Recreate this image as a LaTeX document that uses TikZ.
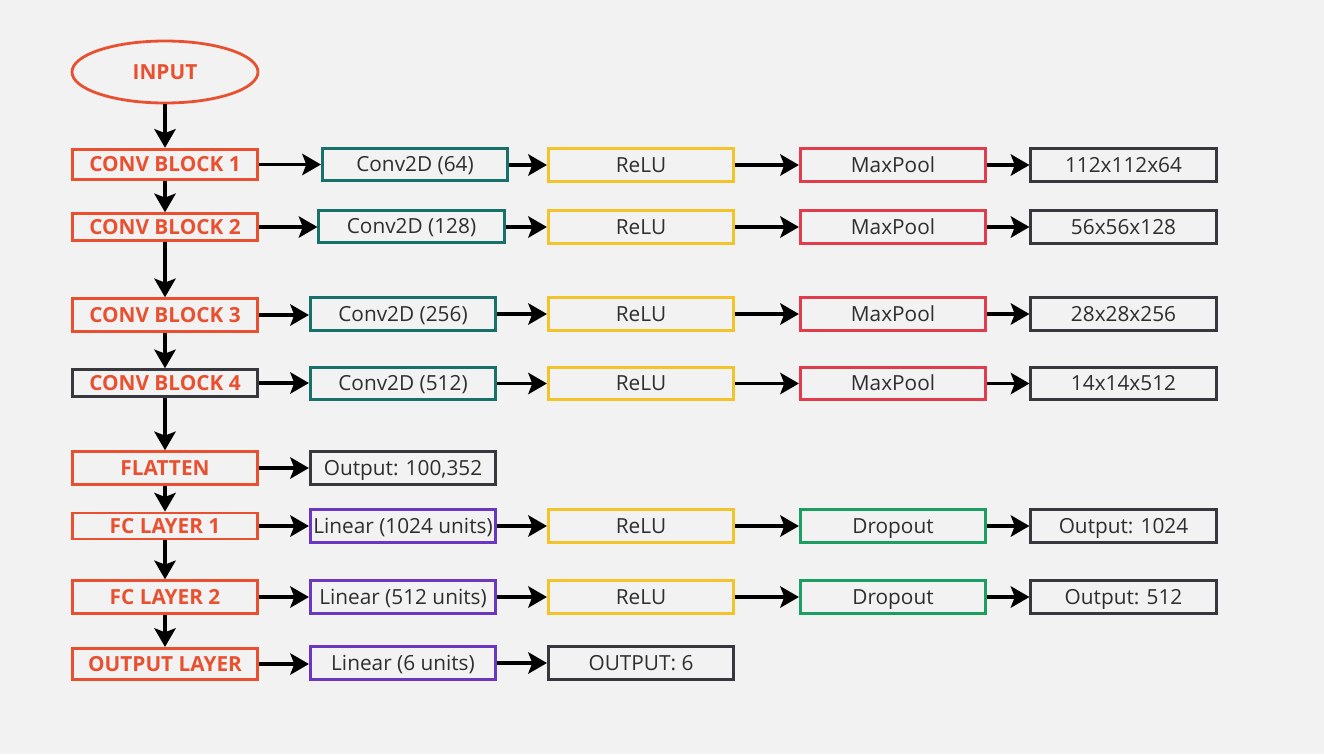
\documentclass[tikz,border=0pt]{standalone}
\usepackage{fontspec}
\setmainfont{Open Sans}
\usetikzlibrary{arrows.meta,shapes.geometric}
\definecolor{bg}{HTML}{F2F2F2}
\definecolor{orng}{HTML}{E9502F}
\definecolor{teal}{HTML}{17706A}
\definecolor{yel}{HTML}{F3C42A}
\definecolor{mred}{HTML}{E03C4B}
\definecolor{dgray}{HTML}{37383E}
\definecolor{purp}{HTML}{6B36C0}
\definecolor{grn}{HTML}{1A9E62}
\definecolor{txt}{HTML}{2E2E2E}
\tikzset{
  blk/.style={draw=orng, line width=2.1pt, text=orng, font=\bfseries\fontsize{15.6}{18}\selectfont, minimum width=139pt, inner sep=0pt, text height=11.1pt, text depth=0pt},
  box/.style={draw, line width=2.1pt, text=txt, font=\fontsize{15.6}{18}\selectfont, minimum width=139pt, minimum height=24.5pt, inner sep=0pt, text height=11.1pt, text depth=0pt},
  arr/.style={-{Stealth[length=14pt,width=16pt,inset=3pt]}, line width=2.6pt, black},
}
\begin{document}
\begin{tikzpicture}[x=0.75pt,y=-0.75pt]
\useasboundingbox[fill=bg] (0,0) rectangle (1324,754);
% left column
\node[ellipse, draw=orng, line width=2.1pt, text=orng, font=\bfseries\fontsize{15.6}{18}\selectfont, minimum width=139.5pt, minimum height=46.5pt, inner sep=0pt, text height=11.1pt, text depth=0pt] (in) at (165,72) {INPUT};
\node[blk, minimum height=23pt] (c1) at (165,164.5) {CONV BLOCK 1};
\node[blk, minimum height=20pt] (c2) at (165,227) {CONV BLOCK 2};
\node[blk, minimum height=24.5pt] (c3) at (165,315) {CONV BLOCK 3};
\node[blk, draw=dgray, minimum height=20pt] (c4) at (165,383) {CONV BLOCK 4};
\node[blk, minimum height=24.5pt] (fl) at (165,468) {FLATTEN};
\node[blk, minimum height=19.5pt] (f1) at (165,526) {FC LAYER 1};
\node[blk, minimum height=24.5pt] (f2) at (165,597) {FC LAYER 2};
\node[blk, minimum height=23.5pt] (ol) at (165,664) {OUTPUT LAYER};
% second column
\node[box, draw=teal] (a1) at (415,164.5) {Conv2D (64)};
\node[box, draw=teal] (a2) at (411.5,226.5) {Conv2D (128)};
\node[box, draw=teal] (a3) at (403,314) {Conv2D (256)};
\node[box, draw=teal] (a4) at (403,383.5) {Conv2D (512)};
\node[box, draw=dgray] (a5) at (403,468) {Output: 100,352};
\node[box, draw=purp] (a6) at (403,526) {Linear (1024 units)};
\node[box, draw=purp] (a7) at (403,597) {Linear (512 units)};
\node[box, draw=purp] (a8) at (403,663) {Linear (6 units)};
% third column
\node[box, draw=yel] (b1) at (641,165) {ReLU};
\node[box, draw=yel] (b2) at (641,227) {ReLU};
\node[box, draw=yel] (b3) at (641,314) {ReLU};
\node[box, draw=yel] (b4) at (641,383.5) {ReLU};
\node[box, draw=yel] (b6) at (641,526) {ReLU};
\node[box, draw=yel] (b7) at (641,597) {ReLU};
\node[box, draw=dgray] (b8) at (641,663) {OUTPUT: 6};
% fourth column
\node[box, draw=mred] (d1) at (893,165) {MaxPool};
\node[box, draw=mred] (d2) at (893,227) {MaxPool};
\node[box, draw=mred] (d3) at (893,314) {MaxPool};
\node[box, draw=mred] (d4) at (893,383.5) {MaxPool};
\node[box, draw=grn] (d6) at (893,526) {Dropout};
\node[box, draw=grn] (d7) at (893,597) {Dropout};
% fifth column
\node[box, draw=dgray] (e1) at (1123.5,165) {112x112x64};
\node[box, draw=dgray] (e2) at (1123.5,227) {56x56x128};
\node[box, draw=dgray] (e3) at (1123.5,314) {28x28x256};
\node[box, draw=dgray] (e4) at (1123.5,383.5) {14x14x512};
\node[box, draw=dgray] (e6) at (1123.5,526) {Output: 1024};
\node[box, draw=dgray] (e7) at (1123.5,597) {Output: 512};
% vertical arrows
\draw[arr] (in) -- (c1);
\draw[arr] (c1) -- (c2);
\draw[arr] (c2) -- (c3);
\draw[arr] (c3) -- (c4);
\draw[arr] (c4) -- (fl);
\draw[arr] (fl) -- (f1);
\draw[arr] (f1) -- (f2);
\draw[arr] (f2) -- (ol);
% horizontal arrows
\foreach \l/\r in {c1/a1,c2/a2,c3/a3,c4/a4,fl/a5,f1/a6,f2/a7,ol/a8}
  \draw[arr] (\l.east) -- (\l.east -| \r.west);
\foreach \l/\r in {a1/b1,a2/b2,a3/b3,a4/b4,a6/b6,a7/b7,a8/b8,b1/d1,b2/d2,b3/d3,b4/d4,b6/d6,b7/d7,d1/e1,d2/e2,d3/e3,d4/e4,d6/e6,d7/e7}
  \draw[arr] (\l.east |- \r.west) -- (\r.west);
\end{tikzpicture}
\end{document}
